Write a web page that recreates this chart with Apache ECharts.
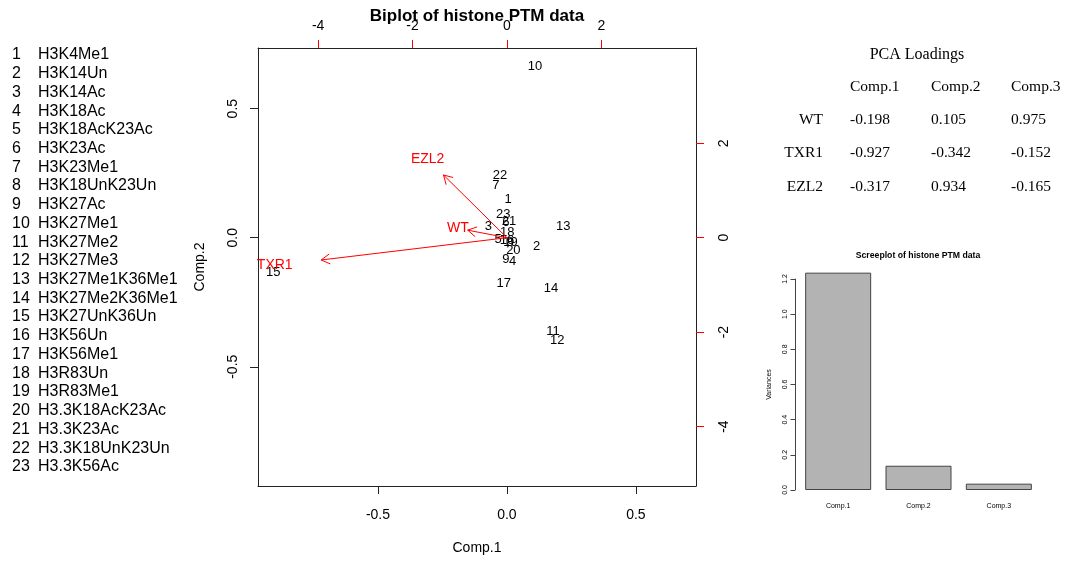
<!DOCTYPE html>
<html>
<head>
<meta charset="utf-8">
<script src="https://cdn.jsdelivr.net/npm/echarts@6/dist/echarts.min.js"></script>
<style>
  html, body { margin: 0; padding: 0; background: #ffffff; }
  #main { width: 1070px; height: 561px; }
</style>
</head>
<body>
<div id="main"></div>
<script>
// Histone PTM marks, numbered as they appear in the biplot
const markNames = [
  'H3K4Me1', 'H3K14Un', 'H3K14Ac', 'H3K18Ac', 'H3K18AcK23Ac', 'H3K23Ac',
  'H3K23Me1', 'H3K18UnK23Un', 'H3K27Ac', 'H3K27Me1', 'H3K27Me2', 'H3K27Me3',
  'H3K27Me1K36Me1', 'H3K27Me2K36Me1', 'H3K27UnK36Un', 'H3K56Un', 'H3K56Me1',
  'H3R83Un', 'H3R83Me1', 'H3.3K18AcK23Ac', 'H3.3K23Ac', 'H3.3K18UnK23Un', 'H3.3K56Ac'
];

// Principal component scores of each mark (Comp.1, Comp.2)
const scoreX = [0.005, 0.115, -0.072, 0.022, -0.034, -0.004, -0.043, 0.012, -0.004, 0.109,
  0.179, 0.195, 0.218, 0.171, -0.906, 0.000, -0.012, 0.001, 0.014, 0.025, 0.008, -0.027, -0.014];
const scoreY = [0.149, -0.032, 0.043, -0.093, -0.006, 0.060, 0.204, -0.018, -0.084, 0.662,
  -0.364, -0.399, 0.045, -0.196, -0.136, -0.012, -0.177, 0.019, -0.020, -0.048, 0.062, 0.243, 0.091];

// Variable (genotype) loadings in biplot units
const loadingNames = ['WT', 'TXR1', 'EZL2'];
const loadingX = [-1.04, -4.92, -1.68];
const loadingY = [0.20, -0.59, 1.66];

// Tick positions
const scoreTicks = [-0.5, 0, 0.5];
const loadingTicks = [-4, -2, 0, 2];

// Loadings table
const tableCols = ['Comp.1', 'Comp.2', 'Comp.3'];
const tableRows = ['WT', 'TXR1', 'EZL2'];
const tableWT = ['-0.198', '0.105', '0.975'];
const tableTXR1 = ['-0.927', '-0.342', '-0.152'];
const tableEZL2 = ['-0.317', '0.934', '-0.165'];

// Screeplot
const screeComps = ['Comp.1', 'Comp.2', 'Comp.3'];
const screeVariances = [1.236, 0.138, 0.036];

// ---- layout ----
const SANS = "'Liberation Sans', Arial, sans-serif";
const SERIF = "'Liberation Serif', 'Times New Roman', serif";
const scoreXRange = [-0.965, 0.733];
const scoreYRange = [-0.962, 0.735];
const loadRatio = 5.466;      // loading axis units per score unit
const arrowScale = 0.8;       // arrows stop short of their labels

const chart = echarts.init(document.getElementById('main'), null, { renderer: 'canvas' });

const graphics = [];
// numbered list of marks
markNames.forEach((n, i) => {
  const y = 55 + i * 18.72;
  graphics.push({ type: 'text', x: 12, y, style: { text: String(i + 1), font: `16px ${SANS}`, fill: '#000', align: 'left', verticalAlign: 'middle' } });
  graphics.push({ type: 'text', x: 38, y, style: { text: n, font: `16px ${SANS}`, fill: '#000', align: 'left', verticalAlign: 'middle' } });
});
// biplot title
graphics.push({ type: 'text', x: 477, y: 16, style: { text: 'Biplot of histone PTM data', font: `bold 17px ${SANS}`, fill: '#000', align: 'center', verticalAlign: 'middle' } });
// loadings table
graphics.push({ type: 'text', x: 917, y: 55, style: { text: 'PCA Loadings', font: `16px ${SERIF}`, fill: '#000', align: 'center', verticalAlign: 'middle' } });
const colX = [850, 931, 1011];
tableCols.forEach((c, j) => {
  graphics.push({ type: 'text', x: colX[j], y: 87, style: { text: c, font: `15.5px ${SERIF}`, fill: '#000', align: 'left', verticalAlign: 'middle' } });
});
[tableWT, tableTXR1, tableEZL2].forEach((row, i) => {
  const y = 120 + i * 33.3;
  graphics.push({ type: 'text', x: 823, y, style: { text: tableRows[i], font: `15.5px ${SERIF}`, fill: '#000', align: 'right', verticalAlign: 'middle' } });
  row.forEach((v, j) => {
    graphics.push({ type: 'text', x: colX[j], y, style: { text: v, font: `15.5px ${SERIF}`, fill: '#000', align: 'left', verticalAlign: 'middle' } });
  });
});
// screeplot title
graphics.push({ type: 'text', x: 918, y: 256, style: { text: 'Screeplot of histone PTM data', font: `bold 8.7px ${SANS}`, fill: '#000', align: 'center', verticalAlign: 'middle' } });

const scoreData = scoreX.map((x, i) => [x, scoreY[i], String(i + 1)]);
const loadingData = loadingX.map((x, i) => [x, loadingY[i], loadingNames[i]]);

const option = {
  animation: false,
  backgroundColor: '#ffffff',
  graphic: graphics,
  grid: [
    { left: 258, top: 48, width: 438, height: 438 },
    { left: 798, top: 279, width: 241, height: 211 }
  ],
  xAxis: [
    {
      type: 'value', gridIndex: 0, position: 'bottom',
      min: scoreXRange[0], max: scoreXRange[1],
      axisLine: { show: true, onZero: false, lineStyle: { color: '#222', width: 1 } },
      axisTick: { show: true, length: 8, customValues: scoreTicks, lineStyle: { color: '#222' } },
      axisLabel: { customValues: scoreTicks, margin: 22, fontSize: 14, color: '#000', fontFamily: SANS,
        formatter: v => v.toFixed(1) },
      splitLine: { show: false },
      name: 'Comp.1', nameLocation: 'middle', nameGap: 55,
      nameTextStyle: { fontSize: 14, color: '#000', fontFamily: SANS }
    },
    {
      type: 'value', gridIndex: 0, position: 'top',
      min: scoreXRange[0] * loadRatio, max: scoreXRange[1] * loadRatio,
      axisLine: { show: true, onZero: false, lineStyle: { color: '#222', width: 1 } },
      axisTick: { show: true, length: 8, customValues: loadingTicks, lineStyle: { color: '#ff0000' } },
      axisLabel: { customValues: loadingTicks, margin: 15, fontSize: 14, color: '#000', fontFamily: SANS },
      splitLine: { show: false }
    },
    {
      type: 'category', gridIndex: 1, data: screeComps,
      axisLine: { show: false }, axisTick: { show: false },
      axisLabel: { margin: 13, fontSize: 7, color: '#000', fontFamily: SANS },
      splitLine: { show: false }
    }
  ],
  yAxis: [
    {
      type: 'value', gridIndex: 0, position: 'left',
      min: scoreYRange[0], max: scoreYRange[1],
      axisLine: { show: true, onZero: false, lineStyle: { color: '#222', width: 1 } },
      axisTick: { show: true, length: 8, customValues: scoreTicks, lineStyle: { color: '#222' } },
      axisLabel: { customValues: scoreTicks, margin: 18, rotate: 90, fontSize: 14, color: '#000', fontFamily: SANS,
        formatter: v => v.toFixed(1) },
      splitLine: { show: false },
      name: 'Comp.2', nameLocation: 'middle', nameGap: 51,
      nameTextStyle: { fontSize: 14, color: '#000', fontFamily: SANS }
    },
    {
      type: 'value', gridIndex: 0, position: 'right',
      min: scoreYRange[0] * loadRatio, max: scoreYRange[1] * loadRatio,
      axisLine: { show: true, onZero: false, lineStyle: { color: '#222', width: 1 } },
      axisTick: { show: true, length: 8, customValues: loadingTicks, lineStyle: { color: '#ff0000' } },
      axisLabel: { customValues: loadingTicks, margin: 21, rotate: 90, fontSize: 14, color: '#000', fontFamily: SANS },
      splitLine: { show: false }
    },
    {
      type: 'value', gridIndex: 1, min: 0, max: 1.2, interval: 0.2, offset: 3,
      axisLine: { show: true, lineStyle: { color: '#444', width: 1 } },
      axisTick: { show: true, length: 4.5, lineStyle: { color: '#444' } },
      axisLabel: { margin: 6, rotate: 90, fontSize: 7, color: '#000', fontFamily: SANS,
        formatter: v => v.toFixed(1) },
      splitLine: { show: false },
      name: 'Variances', nameLocation: 'middle', nameGap: 22,
      nameTextStyle: { fontSize: 7, color: '#000', fontFamily: SANS }
    }
  ],
  series: [
    {
      // mark scores, drawn as their index numbers
      type: 'custom', xAxisIndex: 0, yAxisIndex: 0, clip: false,
      data: scoreData,
      renderItem: (params, api) => {
        const p = api.coord([api.value(0), api.value(1)]);
        return {
          type: 'text', x: p[0], y: p[1],
          style: { text: scoreData[params.dataIndex][2], font: `13px ${SANS}`, fill: '#000', align: 'center', verticalAlign: 'middle' }
        };
      }
    },
    {
      // loading arrows with their labels
      type: 'custom', xAxisIndex: 1, yAxisIndex: 1, clip: false,
      data: loadingData,
      renderItem: (params, api) => {
        const lx = api.value(0), ly = api.value(1);
        const p0 = api.coord([0, 0]);
        const p1 = api.coord([lx * arrowScale, ly * arrowScale]);
        const pl = api.coord([lx, ly]);
        const ang = Math.atan2(p1[1] - p0[1], p1[0] - p0[0]);
        const L = 10, a = Math.PI / 6;
        const h1 = [p1[0] - L * Math.cos(ang - a), p1[1] - L * Math.sin(ang - a)];
        const h2 = [p1[0] - L * Math.cos(ang + a), p1[1] - L * Math.sin(ang + a)];
        return {
          type: 'group',
          children: [
            { type: 'line', shape: { x1: p0[0], y1: p0[1], x2: p1[0], y2: p1[1] }, style: { stroke: '#ff0000', lineWidth: 1 } },
            { type: 'polyline', shape: { points: [h1, p1, h2] }, style: { stroke: '#ff0000', fill: null, lineWidth: 1 } },
            { type: 'text', x: pl[0], y: pl[1], style: { text: loadingData[params.dataIndex][2], font: `14px ${SANS}`, fill: '#ff0000', align: 'center', verticalAlign: 'middle' } }
          ]
        };
      }
    },
    {
      type: 'bar', xAxisIndex: 2, yAxisIndex: 2, clip: false,
      data: screeVariances, barWidth: 66,
      itemStyle: { color: '#b3b3b3', borderColor: '#444', borderWidth: 1 }
    }
  ]
};
chart.setOption(option);
</script>
</body>
</html>
